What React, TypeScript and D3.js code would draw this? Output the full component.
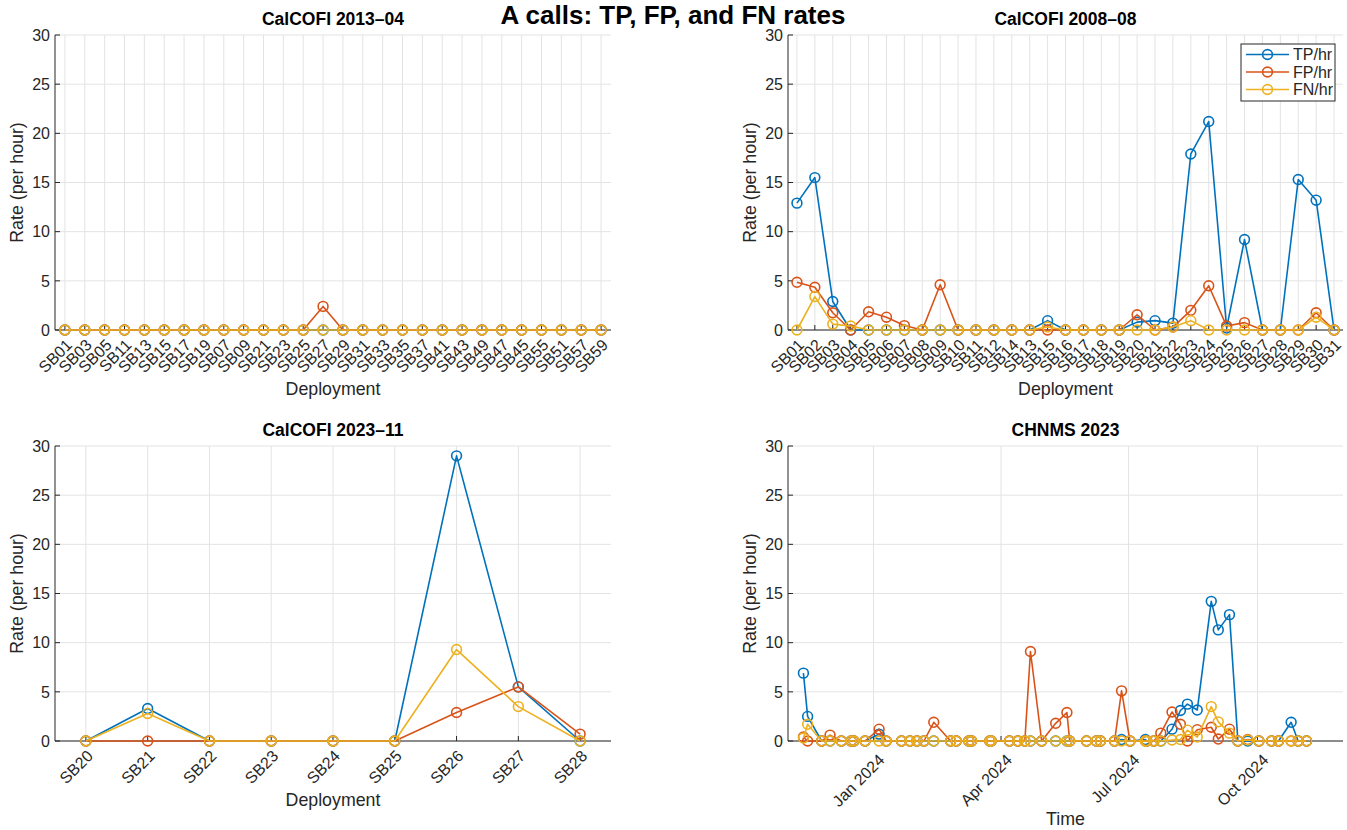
import React, { useEffect } from 'react';
import * as d3 from 'd3';

const COLORS = ['#0072BD', '#D95319', '#EDB120'];
const SERIES_NAMES = ['TP/hr', 'FP/hr', 'FN/hr'];
const FONT = '"Liberation Sans", Arial, Helvetica, sans-serif';
const TXT = '#262626';
const GRID = '#e3e3e3';

const yTicks = [0, 5, 10, 15, 20, 25, 30];

// ---- CalCOFI 2013-04 ----
const cats2013 = ['SB01', 'SB03', 'SB05', 'SB11', 'SB13', 'SB15', 'SB17', 'SB19', 'SB07', 'SB09', 'SB21', 'SB23', 'SB25', 'SB27', 'SB29', 'SB31', 'SB33', 'SB35', 'SB37', 'SB41', 'SB43', 'SB49', 'SB47', 'SB45', 'SB55', 'SB51', 'SB57', 'SB59'];
const tp2013 = [0, 0, 0, 0, 0, 0, 0, 0, 0, 0, 0, 0, 0, 0, 0, 0, 0, 0, 0, 0, 0, 0, 0, 0, 0, 0, 0, 0];
const fp2013 = [0, 0, 0, 0, 0, 0, 0, 0, 0, 0, 0, 0, 0, 2.4, 0, 0, 0, 0, 0, 0, 0, 0, 0, 0, 0, 0, 0, 0];
const fn2013 = [0, 0, 0, 0, 0, 0, 0, 0, 0, 0, 0, 0, 0, 0, 0, 0, 0, 0, 0, 0, 0, 0, 0, 0, 0, 0, 0, 0];

// ---- CalCOFI 2008-08 ----
const cats2008 = ['SB01', 'SB02', 'SB03', 'SB04', 'SB05', 'SB06', 'SB07', 'SB08', 'SB09', 'SB10', 'SB11', 'SB12', 'SB14', 'SB13', 'SB15', 'SB16', 'SB17', 'SB18', 'SB19', 'SB20', 'SB21', 'SB22', 'SB23', 'SB24', 'SB25', 'SB26', 'SB27', 'SB28', 'SB29', 'SB30', 'SB31'];
const tp2008 = [12.9, 15.5, 2.9, 0, 0, 0, 0, 0, 0, 0, 0, 0, 0, 0, 0.95, 0, 0, 0, 0, 0.8, 0.95, 0.7, 17.9, 21.2, 0.2, 9.2, 0, 0, 15.3, 13.2, 0];
const fp2008 = [4.85, 4.35, 1.75, 0, 1.85, 1.3, 0.45, 0, 4.6, 0, 0, 0, 0, 0, 0, 0, 0, 0, 0, 1.55, 0, 0.3, 2.0, 4.5, 0.4, 0.75, 0, 0, 0, 1.75, 0];
const fn2008 = [0, 3.4, 0.6, 0.4, 0, 0, 0, 0, 0, 0, 0, 0, 0, 0, 0.3, 0, 0, 0, 0, 0, 0, 0.3, 0.95, 0, 0, 0, 0, 0, 0, 1.3, 0];

// ---- CalCOFI 2023-11 ----
const cats2023 = ['SB20', 'SB21', 'SB22', 'SB23', 'SB24', 'SB25', 'SB26', 'SB27', 'SB28'];
const tp2023 = [0, 3.3, 0, 0, 0, 0, 29.0, 5.5, 0];
const fp2023 = [0, 0, 0, 0, 0, 0, 2.9, 5.5, 0.7];
const fn2023 = [0, 2.8, 0, 0, 0, 0, 9.3, 3.5, 0];

// ---- CHNMS 2023 ----
const datesCHNMS = ['2023-11-12', '2023-11-15', '2023-11-25', '2023-12-01', '2023-12-09', '2023-12-16', '2023-12-18', '2023-12-26', '2024-01-05', '2024-01-10', '2024-01-21', '2024-01-27', '2024-02-01', '2024-02-06', '2024-02-13', '2024-02-25', '2024-02-29', '2024-03-09', '2024-03-11', '2024-03-24', '2024-03-25', '2024-04-07', '2024-04-13', '2024-04-18', '2024-04-22', '2024-04-30', '2024-05-10', '2024-05-18', '2024-05-20', '2024-06-01', '2024-06-08', '2024-06-11', '2024-06-21', '2024-06-26', '2024-07-02', '2024-07-13', '2024-07-14', '2024-07-19', '2024-07-24', '2024-08-01', '2024-08-07', '2024-08-12', '2024-08-19', '2024-08-29', '2024-09-03', '2024-09-11', '2024-09-17', '2024-09-24', '2024-10-02', '2024-10-11', '2024-10-16', '2024-10-25', '2024-10-30', '2024-11-05'];
const tpCHNMS = [6.9, 2.5, 0, 0, 0, 0, 0, 0, 0.7, 0, 0, 0, 0, 0, 0, 0, 0, 0, 0, 0, 0, 0, 0, 0, 0, 0, 0, 0, 0, 0, 0, 0, 0, 0.15, 0, 0.15, 0, 0, 0, 1.2, 3.1, 3.75, 3.15, 14.2, 11.3, 12.85, 0, 0, 0, 0, 0, 1.9, 0, 0];
const fpCHNMS = [0.4, 0, 0, 0.6, 0, 0, 0, 0, 1.2, 0, 0, 0, 0, 0, 1.9, 0, 0, 0, 0, 0, 0, 0, 0, 0, 9.1, 0, 1.8, 2.9, 0, 0, 0, 0, 0, 5.1, 0, 0, 0, 0, 0.8, 2.95, 1.7, 0, 1.15, 1.4, 0.2, 1.2, 0, 0.15, 0, 0, 0, 0, 0, 0];
const fnCHNMS = [0.3, 1.7, 0, 0, 0, 0, 0, 0, 0, 0, 0, 0, 0, 0, 0, 0, 0, 0, 0, 0, 0, 0, 0, 0, 0, 0, 0, 0, 0, 0, 0, 0, 0, 0, 0, 0, 0, 0, 0, 0.1, 0.15, 1.1, 0.4, 3.5, 1.95, 0.8, 0, 0.1, 0, 0, 0, 0, 0, 0];
const timeDomain = ['2023-11-01', '2024-12-01'];
const timeTicks = ['2024-01-01', '2024-04-01', '2024-07-01', '2024-10-01'];
const timeTickLabels = ['Jan 2024', 'Apr 2024', 'Jul 2024', 'Oct 2024'];

const parse = d3.utcParse('%Y-%m-%d');

type Tick = { pos: number; label: string };
type PanelProps = {
  title: string;
  xLabel: string;
  left: number;
  right: number;
  top: number;
  bottom: number;
  xs: number[];
  xTicks: Tick[];
  series: number[][];
  legend?: boolean;
  labelDx: number;
  labelDy: number;
};

const TICK_FS = 16;
const LABEL_FS = 17.8;
const TITLE_FS = 17.5;

function Panel(p: PanelProps) {
  const y = d3.scaleLinear().domain([0, 30]).range([p.bottom, p.top]);
  const line = d3.line<number>().x((_, i) => p.xs[i]).y((v) => y(v));
  const cx = (p.left + p.right) / 2;
  const tickLen = 5;
  return (
    <g>
      {p.xTicks.map((t, i) => (
        <line key={'gx' + i} x1={t.pos} x2={t.pos} y1={p.top} y2={p.bottom} stroke={GRID} strokeWidth={1} />
      ))}
      {yTicks.map((v) => (
        <line key={'gy' + v} x1={p.left} x2={p.right} y1={y(v)} y2={y(v)} stroke={GRID} strokeWidth={1} />
      ))}
      <line x1={p.left} x2={p.left} y1={p.top} y2={p.bottom} stroke={TXT} strokeWidth={1} />
      <line x1={p.left} x2={p.right} y1={p.bottom} y2={p.bottom} stroke={TXT} strokeWidth={1} />
      {yTicks.map((v) => (
        <g key={'yt' + v}>
          <line x1={p.left} x2={p.left + tickLen} y1={y(v)} y2={y(v)} stroke={TXT} strokeWidth={1} />
          <text x={p.left - 5} y={y(v)} dy="0.36em" textAnchor="end" fontSize={TICK_FS} fill={TXT}>
            {v}
          </text>
        </g>
      ))}
      {p.xTicks.map((t, i) => (
        <g key={'xt' + i}>
          <line x1={t.pos} x2={t.pos} y1={p.bottom} y2={p.bottom - tickLen} stroke={TXT} strokeWidth={1} />
          <text
            transform={`translate(${t.pos + p.labelDx},${p.bottom + p.labelDy}) rotate(-45)`}
            textAnchor="end"
            dy="0.36em"
            fontSize={TICK_FS}
            fill={TXT}
          >
            {t.label}
          </text>
        </g>
      ))}
      <text x={cx} y={p.top - 10} textAnchor="middle" fontSize={TITLE_FS} fontWeight="bold" fill="#000">
        {p.title}
      </text>
      <text
        transform={`translate(${p.left - 32},${(p.top + p.bottom) / 2}) rotate(-90)`}
        textAnchor="middle"
        fontSize={LABEL_FS}
        fill={TXT}
      >
        Rate (per hour)
      </text>
      <text x={cx} y={p.xLabel === 'Time' ? p.bottom + 84 : p.bottom + 65} textAnchor="middle" fontSize={LABEL_FS} fill={TXT}>
        {p.xLabel}
      </text>
      {p.series.map((s, k) => (
        <g key={'s' + k}>
          <path d={line(s) || ''} fill="none" stroke={COLORS[k]} strokeWidth={1.6} strokeLinejoin="round" />
          {s.map((v, i) => (
            <circle key={i} cx={p.xs[i]} cy={y(v)} r={4.9} fill="none" stroke={COLORS[k]} strokeWidth={1.6} />
          ))}
        </g>
      ))}
      {p.legend && (
        <g>
          <rect x={1241} y={44} width={94} height={57} fill="#fff" stroke={TXT} strokeWidth={1} />
          {SERIES_NAMES.map((n, k) => {
            const ly = 54.5 + k * 17.5;
            return (
              <g key={n}>
                <line x1={1246} x2={1289} y1={ly} y2={ly} stroke={COLORS[k]} strokeWidth={1.6} />
                <circle cx={1267.5} cy={ly} r={4.9} fill="none" stroke={COLORS[k]} strokeWidth={1.6} />
                <text x={1293} y={ly} dy="0.36em" fontSize={TICK_FS} fill={TXT}>
                  {n}
                </text>
              </g>
            );
          })}
        </g>
      )}
    </g>
  );
}

function catPanel(cats: string[], left: number, right: number) {
  const x = d3.scalePoint<string>().domain(cats).range([left, right]).padding(0.5);
  const xs = cats.map((c) => x(c) as number);
  return { xs, xTicks: cats.map((c) => ({ pos: x(c) as number, label: c })) };
}

export default function App() {
  useEffect(() => {
    document.body.style.margin = '0';
  }, []);

  const L1 = 55, R1 = 611, L2 = 788, R2 = 1343;
  const T1 = 35, B1 = 330, T2 = 446, B2 = 741;

  const p1 = catPanel(cats2013, L1, R1);
  const p2 = catPanel(cats2008, L2, R2);
  const p3 = catPanel(cats2023, L1, R1);

  const xt = d3.scaleUtc().domain(timeDomain.map((d) => parse(d) as Date)).range([L2, R2]);
  const xs4 = datesCHNMS.map((d) => xt(parse(d) as Date));
  const ticks4 = timeTicks.map((d, i) => ({ pos: xt(parse(d) as Date), label: timeTickLabels[i] }));

  return (
    <svg
      width={1347}
      height={830}
      style={{ position: 'absolute', left: 0, top: 0, background: '#fff' }}
      fontFamily={FONT}
    >
      <rect width={1347} height={830} fill="#fff" />
      <text x={673} y={24} textAnchor="middle" fontSize={26} fontWeight="bold" fill="#000">
        A calls: TP, FP, and FN rates
      </text>
      <Panel title="CalCOFI 2013–04" xLabel="Deployment" left={L1} right={R1} top={T1} bottom={B1} xs={p1.xs} xTicks={p1.xTicks} series={[tp2013, fp2013, fn2013]} labelDx={4} labelDy={12} />
      <Panel title="CalCOFI 2008–08" xLabel="Deployment" left={L2} right={R2} top={T1} bottom={B1} xs={p2.xs} xTicks={p2.xTicks} series={[tp2008, fp2008, fn2008]} legend labelDx={4} labelDy={12} />
      <Panel title="CalCOFI 2023–11" xLabel="Deployment" left={L1} right={R1} top={T2} bottom={B2} xs={p3.xs} xTicks={p3.xTicks} series={[tp2023, fp2023, fn2023]} labelDx={4} labelDy={12} />
      <Panel title="CHNMS 2023" xLabel="Time" left={L2} right={R2} top={T2} bottom={B2} xs={xs4} xTicks={ticks4} series={[tpCHNMS, fpCHNMS, fnCHNMS]} labelDx={8} labelDy={16} />
    </svg>
  );
}
